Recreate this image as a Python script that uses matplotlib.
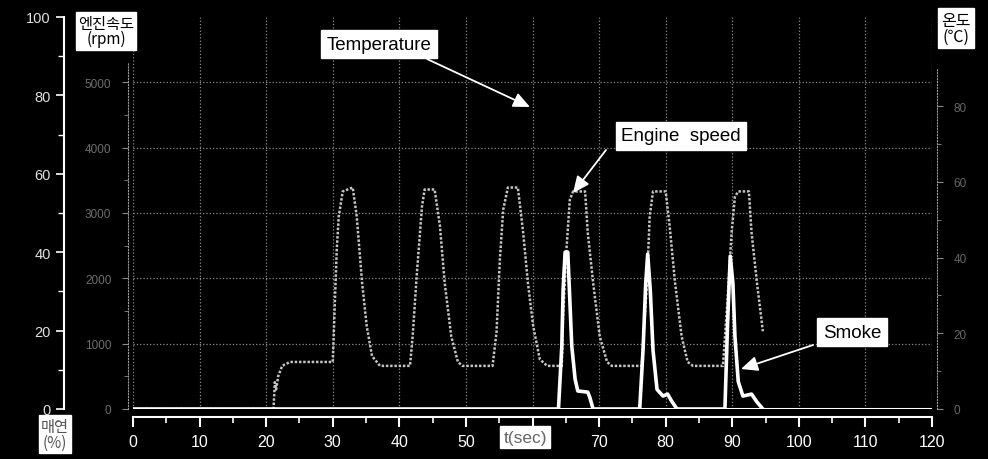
import numpy as np
import matplotlib
matplotlib.use("Agg")
from matplotlib import pyplot as plt
from matplotlib.ticker import MultipleLocator, FixedLocator, FuncFormatter

plt.rcParams['font.family'] = ['Liberation Sans', 'Noto Sans CJK KR', 'DejaVu Sans']

# Engine speed (rpm)
eng_t = [0, 21.1, 21.3, 21.5, 21.8, 22.4, 23.6, 30.0, 30.6, 30.9, 31.5, 33.0, 33.6, 34.4, 35.1, 35.9, 37.1,
         41.6, 42.0, 42.6, 43.4, 43.8, 45.3, 46.1, 46.8, 47.8, 48.8, 49.5,
         54.0, 54.6, 55.1, 55.6, 56.3, 57.8, 58.6, 59.3, 60.1, 61.1, 62.2,
         64.4, 64.6, 65.1, 65.6, 66.1, 67.9, 68.3, 69.1, 70.1, 71.2, 71.9,
         76.4, 77.2, 77.6, 78.1, 80.0, 80.6, 81.4, 82.4, 83.3, 84.1,
         88.6, 89.3, 89.9, 90.4, 90.9, 92.5, 92.9, 93.7, 94.6]
eng_rpm = [0, 0, 410, 300, 500, 660, 720, 720, 2440, 2950, 3330, 3390, 2950, 1940, 1270, 810, 660,
           660, 1110, 2030, 3100, 3360, 3360, 2800, 1940, 1110, 720, 660,
           660, 1180, 2290, 3050, 3390, 3390, 2700, 1940, 1270, 760, 660,
           660, 1420, 2440, 3200, 3330, 3330, 2700, 1940, 1110, 720, 660,
           660, 1940, 2950, 3330, 3330, 2800, 1940, 1110, 720, 660,
           660, 1680, 2700, 3250, 3330, 3330, 2700, 1940, 1190]

# Smoke (%)
smoke_t = [0, 63.9, 64.4, 64.6, 64.9, 65.3, 65.5, 65.9, 66.4, 66.8, 68.3, 68.6, 69.1,
           76.1, 76.6, 77.0, 77.3, 77.7, 78.1, 78.7, 79.6, 80.3, 80.9, 81.7,
           88.9, 89.3, 89.7, 90.1, 90.4, 90.9, 91.6, 92.9, 93.7, 94.6]
smoke_pct = [0, 0, 16, 30.6, 40, 40, 32, 16, 7.6, 4.6, 4.3, 3, 0,
             0, 15, 32, 39.5, 30, 15, 5, 3.3, 3.8, 2, 0,
             0, 22, 39, 32, 18.6, 7, 3.3, 3.8, 1.8, 0]

W, H = 988, 460
fig = plt.figure(figsize=(W / 100, H / 100), dpi=100, facecolor='black')

def px(x, y):
    return (x / W, 1 - y / H)

ax = fig.add_axes([133 / W, 50 / H, 799 / W, 392 / H])
ax.set_facecolor('black')
ax.set_xlim(0, 120)
ax.set_ylim(0, 6000)

# engine speed axis (rpm)
for s in ['top', 'right']:
    ax.spines[s].set_visible(False)
ax.spines['left'].set_position(('outward', 3.6))
ax.spines['left'].set_color('#9a9a9a')
ax.spines['left'].set_linestyle(':')
ax.spines['left'].set_bounds(0, 5300)
ax.yaxis.set_major_locator(FixedLocator([0, 1000, 2000, 3000, 4000, 5000]))
ax.yaxis.set_minor_locator(FixedLocator([500, 1500, 2500, 3500, 4500]))
ax.tick_params(axis='y', which='major', colors='#8a8a8a', labelcolor='#6e6e6e', labelsize=8.5, length=4, pad=8)
ax.tick_params(axis='y', which='minor', colors='#8a8a8a', length=3)

# time axis (60 label is covered by the t(sec) box)
ax.spines['bottom'].set_position(('outward', 5.8))
ax.spines['bottom'].set_color('white')
ax.spines['bottom'].set_linewidth(1.5)
ax.xaxis.set_major_locator(MultipleLocator(10))
ax.xaxis.set_minor_locator(MultipleLocator(5))
ax.xaxis.set_major_formatter(FuncFormatter(lambda v, p: '' if round(v) == 60 else f'{v:.0f}'))
ax.tick_params(axis='x', which='major', colors='white', labelcolor='white', labelsize=11.5, length=7, width=1.5, pad=5)
ax.tick_params(axis='x', which='minor', colors='white', length=4, width=1.2)

ax.grid(True, which='major', color='#8c8c8c', linestyle=':', linewidth=0.9)

ax.plot(eng_t, eng_rpm, color='#c4c4c4', linestyle=(0, (1, 0.7)), linewidth=1.8)

# smoke axis (%)
ax_s = ax.twinx()
ax_s.set_ylim(0, 100)
ax_s.yaxis.set_label_position('left')
ax_s.yaxis.set_ticks_position('left')
for s in ['top', 'right', 'bottom']:
    ax_s.spines[s].set_visible(False)
ax_s.spines['left'].set_position(('outward', 49.7))
ax_s.spines['left'].set_color('white')
ax_s.spines['left'].set_linewidth(1.5)
ax_s.yaxis.set_major_locator(MultipleLocator(20))
ax_s.yaxis.set_minor_locator(MultipleLocator(10))
ax_s.tick_params(axis='y', which='major', colors='white', labelcolor='#e0e0e0', labelsize=10.5, length=6, width=1.2)
ax_s.tick_params(axis='y', which='minor', colors='white', length=4, width=1.0)
ax_s.axhline(0, color='white', linewidth=2.2)
ax_s.plot(smoke_t, smoke_pct, color='white', linewidth=2.6)

# temperature axis
ax_t = ax.twinx()
ax_t.set_ylim(0, 103.5)
for s in ['top', 'left', 'bottom']:
    ax_t.spines[s].set_visible(False)
ax_t.spines['right'].set_position(('outward', 3.6))
ax_t.spines['right'].set_color('#9a9a9a')
ax_t.spines['right'].set_linestyle(':')
ax_t.spines['right'].set_bounds(0, 90)
ax_t.yaxis.set_major_locator(FixedLocator([0, 20, 40, 60, 80]))
ax_t.yaxis.set_minor_locator(FixedLocator([10, 30, 50, 70]))
ax_t.tick_params(axis='y', which='major', colors='#8a8a8a', labelcolor='#666666', labelsize=8.5, length=4, pad=8)
ax_t.tick_params(axis='y', which='minor', colors='#8a8a8a', length=3)

kr = ['Noto Sans CJK KR', 'DejaVu Sans']
box = dict(boxstyle='square,pad=0.15', facecolor='white', edgecolor='white')
fig.text(*px(106, 32), '엔진속도\n(rpm)', ha='center', va='center', fontsize=11, color='black',
         family=kr, linespacing=0.9, bbox=box)
fig.text(*px(55, 435), '매연\n(%)', ha='center', va='center', fontsize=11, color='#555555',
         family=kr, linespacing=0.9, bbox=dict(boxstyle='square,pad=0.15', facecolor='white', edgecolor='white'))
fig.text(*px(956, 29), '온도\n(℃)', ha='center', va='center', fontsize=11.5, color='black',
         family=kr, linespacing=0.9, bbox=dict(boxstyle='square,pad=0.2', facecolor='white', edgecolor='white'))
fig.text(*px(525, 438), 't(sec)', ha='center', va='center', fontsize=12.5, color='#666666',
         bbox=dict(boxstyle='square,pad=0.2', facecolor='white', edgecolor='white'))

abox = dict(boxstyle='square,pad=0.3', facecolor='white', edgecolor='white')
arrow = dict(arrowstyle='-|>,head_length=1.0,head_width=0.45', color='white', lw=1.3, shrinkA=0, shrinkB=0)
fig.text(*px(379, 45), 'Temperature', ha='center', va='center', fontsize=13.5, color='black', bbox=abox)
ax.annotate('', xy=px(530, 108), xytext=px(427, 60), xycoords='figure fraction',
            textcoords='figure fraction', arrowprops=arrow)
fig.text(*px(681, 137), 'Engine  speed', ha='center', va='center', fontsize=13.5, color='black', bbox=abox)
ax.annotate('', xy=px(573, 194), xytext=px(606, 151), xycoords='figure fraction',
            textcoords='figure fraction', arrowprops=arrow)
fig.text(*px(852, 333), 'Smoke', ha='center', va='center', fontsize=13.5, color='black', bbox=abox)
ax.annotate('', xy=px(741, 370), xytext=px(813, 346), xycoords='figure fraction',
            textcoords='figure fraction', arrowprops=arrow)

fig.savefig('out.png', dpi=100, facecolor='black')
